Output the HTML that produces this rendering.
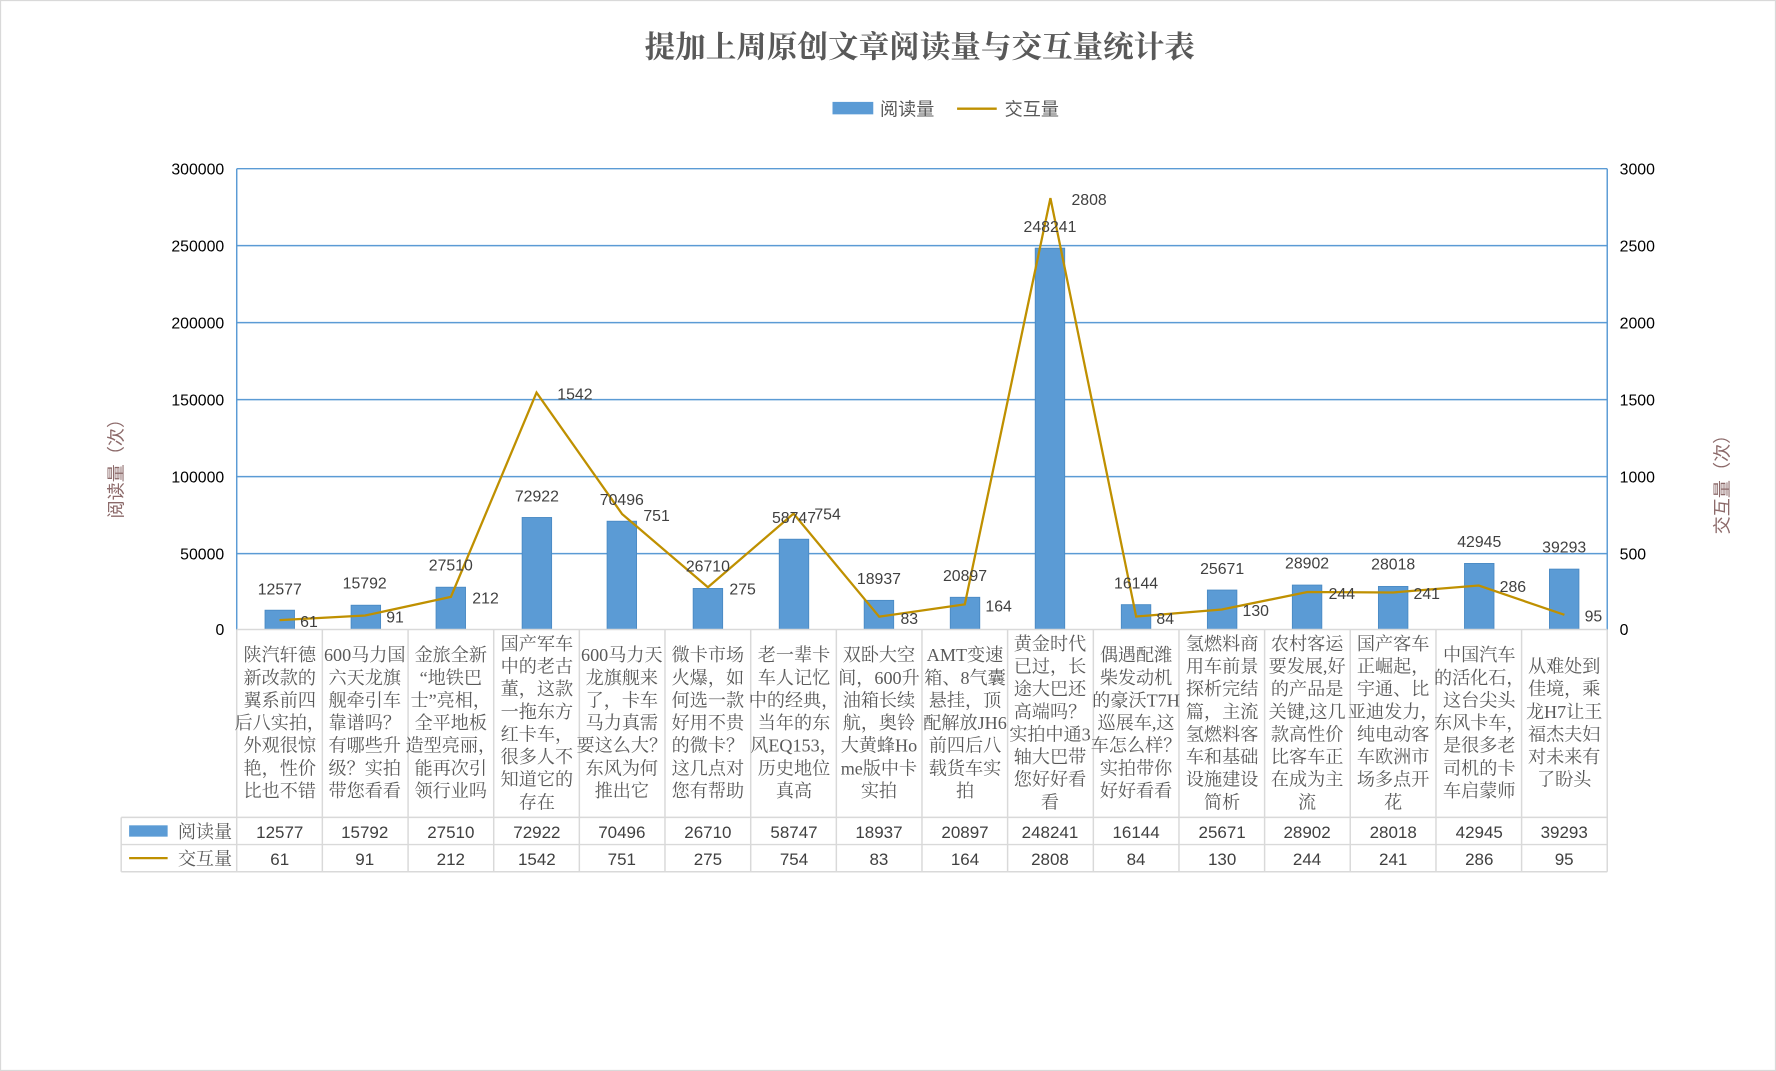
<!DOCTYPE html>
<html><head><meta charset="utf-8"><style>
html,body{margin:0;padding:0;background:#fff;}
svg{display:block;}
.ser{font-family:"Liberation Serif","Noto Serif CJK SC",serif;}
.san{font-family:"Liberation Sans","Noto Sans CJK SC",sans-serif;}
</style></head><body>
<svg width="1776" height="1071" viewBox="0 0 1568 946" preserveAspectRatio="none" xmlns="http://www.w3.org/2000/svg">
<rect x="0.5" y="0.5" width="1567" height="945" fill="#fff" stroke="#d9d9d9"/>
<text x="812" y="51" text-anchor="middle" class="ser" font-size="27" font-weight="bold" fill="#595959">提加上周原创文章阅读量与交互量统计表</text>
<rect x="735" y="90" width="36" height="11" fill="#5b9bd5"/>
<text x="777" y="102" class="san" font-size="16" fill="#595959">阅读量</text>
<line x1="845" y1="96" x2="880" y2="96" stroke="#bf9000" stroke-width="2"/>
<text x="887" y="102" class="san" font-size="16" fill="#595959">交互量</text>
<g stroke="#5b9bd5" stroke-width="1.3">
<line x1="209" y1="149" x2="1419" y2="149"/><line x1="209" y1="217" x2="1419" y2="217"/>
<line x1="209" y1="285" x2="1419" y2="285"/><line x1="209" y1="353" x2="1419" y2="353"/>
<line x1="209" y1="421" x2="1419" y2="421"/><line x1="209" y1="489" x2="1419" y2="489"/>
<line x1="209" y1="149" x2="209" y2="556"/><line x1="1419" y1="149" x2="1419" y2="556"/>
</g>
<g class="san" font-size="14" fill="#000" text-anchor="end">
<text x="198" y="154">300000</text><text x="198" y="222">250000</text><text x="198" y="290">200000</text>
<text x="198" y="358">150000</text><text x="198" y="426">100000</text><text x="198" y="494">50000</text><text x="198" y="561">0</text>
</g>
<g class="san" font-size="14" fill="#000">
<text x="1430" y="154">3000</text><text x="1430" y="222">2500</text><text x="1430" y="290">2000</text>
<text x="1430" y="358">1500</text><text x="1430" y="426">1000</text><text x="1430" y="494">500</text><text x="1430" y="561">0</text>
</g>
<text transform="translate(108,410) rotate(-90)" text-anchor="middle" class="san" font-size="16" fill="#8c6a6a">阅读量（次）</text>
<text transform="translate(1526,424) rotate(-90)" text-anchor="middle" class="san" font-size="16" fill="#8c6a6a">交互量（次）</text>
<g fill="#5b9bd5" stroke="#4a8ac4" stroke-width="0.8">
<rect x="234" y="539" width="26" height="17"/><rect x="310" y="534.6" width="26" height="21.4"/>
<rect x="385" y="518.7" width="26" height="37.3"/><rect x="461" y="457.1" width="26" height="98.9"/>
<rect x="536" y="460.4" width="26" height="95.6"/><rect x="612" y="519.8" width="26" height="36.2"/>
<rect x="688" y="476.3" width="26" height="79.7"/><rect x="763" y="530.3" width="26" height="25.7"/>
<rect x="839" y="527.6" width="26" height="28.4"/><rect x="914" y="219.2" width="26" height="336.8"/>
<rect x="990" y="534.1" width="26" height="21.9"/><rect x="1066" y="521.2" width="26" height="34.8"/>
<rect x="1141" y="516.8" width="26" height="39.2"/><rect x="1217" y="518" width="26" height="38"/>
<rect x="1293" y="497.7" width="26" height="58.3"/><rect x="1368" y="502.7" width="26" height="53.3"/>
</g>
<polyline fill="none" stroke="#bf9000" stroke-width="2" points="246.8,547.7 322.4,543.7 398.1,527.2 473.7,346.8 549.3,454.1 625,518.7 700.6,453.7 776.2,544.7 851.8,533.8 927.4,175 1003.1,544.6 1078.7,538.4 1154.3,522.9 1230,523.3 1305.6,517.2 1381.2,543.1"/>
<g class="san" font-size="14" fill="#404040" text-anchor="middle">
<text x="247" y="525">12577</text><text x="322" y="520">15792</text><text x="398" y="504">27510</text>
<text x="474" y="443">72922</text><text x="549" y="446">70496</text><text x="625" y="505">26710</text>
<text x="701" y="462">58747</text><text x="776" y="516">18937</text><text x="852" y="513">20897</text>
<text x="927" y="205">248241</text><text x="1003" y="520">16144</text><text x="1079" y="507">25671</text>
<text x="1154" y="502">28902</text><text x="1230" y="503">28018</text><text x="1306" y="483">42945</text><text x="1381" y="488">39293</text>
</g>
<g class="san" font-size="14" fill="#404040">
<text x="265" y="554">61</text><text x="341" y="550">91</text><text x="417" y="533">212</text>
<text x="492" y="353">1542</text><text x="568" y="460">751</text><text x="644" y="525">275</text>
<text x="719" y="459">754</text><text x="795" y="551">83</text><text x="870" y="540">164</text>
<text x="946" y="181">2808</text><text x="1021" y="551">84</text><text x="1097" y="544">130</text>
<text x="1173" y="529">244</text><text x="1248" y="529">241</text><text x="1324" y="523">286</text><text x="1399" y="549">95</text>
</g>
<g stroke="#d9d9d9" stroke-width="1.3">
<line x1="209" y1="556" x2="1419" y2="556"/>
<line x1="107" y1="722" x2="1419" y2="722"/><line x1="107" y1="746" x2="1419" y2="746"/><line x1="107" y1="770" x2="1419" y2="770"/>
<line x1="107" y1="722" x2="107" y2="770"/>
<line x1="209" y1="556" x2="209" y2="770"/><line x1="284.6" y1="556" x2="284.6" y2="770"/><line x1="360.3" y1="556" x2="360.3" y2="770"/>
<line x1="435.9" y1="556" x2="435.9" y2="770"/><line x1="511.5" y1="556" x2="511.5" y2="770"/><line x1="587.1" y1="556" x2="587.1" y2="770"/>
<line x1="662.8" y1="556" x2="662.8" y2="770"/><line x1="738.4" y1="556" x2="738.4" y2="770"/><line x1="814" y1="556" x2="814" y2="770"/>
<line x1="889.6" y1="556" x2="889.6" y2="770"/><line x1="965.3" y1="556" x2="965.3" y2="770"/><line x1="1040.9" y1="556" x2="1040.9" y2="770"/>
<line x1="1116.5" y1="556" x2="1116.5" y2="770"/><line x1="1192.1" y1="556" x2="1192.1" y2="770"/><line x1="1267.8" y1="556" x2="1267.8" y2="770"/>
<line x1="1343.4" y1="556" x2="1343.4" y2="770"/><line x1="1419" y1="556" x2="1419" y2="770"/>
</g>
<g class="ser" font-size="16" fill="#595959" text-anchor="middle">
<text y="584"><tspan x="247">陕汽轩德</tspan><tspan x="247" dy="20">新改款的</tspan><tspan x="247" dy="20">翼系前四</tspan><tspan x="247" dy="20">后八实拍，</tspan><tspan x="247" dy="20">外观很惊</tspan><tspan x="247" dy="20">艳，性价</tspan><tspan x="247" dy="20">比也不错</tspan></text>
<text y="584"><tspan x="322">600马力国</tspan><tspan x="322" dy="20">六天龙旗</tspan><tspan x="322" dy="20">舰牵引车</tspan><tspan x="322" dy="20">靠谱吗？</tspan><tspan x="322" dy="20">有哪些升</tspan><tspan x="322" dy="20">级？实拍</tspan><tspan x="322" dy="20">带您看看</tspan></text>
<text y="584"><tspan x="398">金旅全新</tspan><tspan x="398" dy="20">“地铁巴</tspan><tspan x="398" dy="20">士”亮相，</tspan><tspan x="398" dy="20">全平地板</tspan><tspan x="398" dy="20">造型亮丽，</tspan><tspan x="398" dy="20">能再次引</tspan><tspan x="398" dy="20">领行业吗</tspan></text>
<text y="574"><tspan x="474">国产军车</tspan><tspan x="474" dy="20">中的老古</tspan><tspan x="474" dy="20">董，这款</tspan><tspan x="474" dy="20">一拖东方</tspan><tspan x="474" dy="20">红卡车，</tspan><tspan x="474" dy="20">很多人不</tspan><tspan x="474" dy="20">知道它的</tspan><tspan x="474" dy="20">存在</tspan></text>
<text y="584"><tspan x="549">600马力天</tspan><tspan x="549" dy="20">龙旗舰来</tspan><tspan x="549" dy="20">了，卡车</tspan><tspan x="549" dy="20">马力真需</tspan><tspan x="549" dy="20">要这么大？</tspan><tspan x="549" dy="20">东风为何</tspan><tspan x="549" dy="20">推出它</tspan></text>
<text y="584"><tspan x="625">微卡市场</tspan><tspan x="625" dy="20">火爆，如</tspan><tspan x="625" dy="20">何选一款</tspan><tspan x="625" dy="20">好用不贵</tspan><tspan x="625" dy="20">的微卡？</tspan><tspan x="625" dy="20">这几点对</tspan><tspan x="625" dy="20">您有帮助</tspan></text>
<text y="584"><tspan x="701">老一辈卡</tspan><tspan x="701" dy="20">车人记忆</tspan><tspan x="701" dy="20">中的经典，</tspan><tspan x="701" dy="20">当年的东</tspan><tspan x="701" dy="20">风EQ153，</tspan><tspan x="701" dy="20">历史地位</tspan><tspan x="701" dy="20">真高</tspan></text>
<text y="584"><tspan x="776">双卧大空</tspan><tspan x="776" dy="20">间，600升</tspan><tspan x="776" dy="20">油箱长续</tspan><tspan x="776" dy="20">航，奥铃</tspan><tspan x="776" dy="20">大黄蜂Ho</tspan><tspan x="776" dy="20">me版中卡</tspan><tspan x="776" dy="20">实拍</tspan></text>
<text y="584"><tspan x="852">AMT变速</tspan><tspan x="852" dy="20">箱、8气囊</tspan><tspan x="852" dy="20">悬挂，顶</tspan><tspan x="852" dy="20">配解放JH6</tspan><tspan x="852" dy="20">前四后八</tspan><tspan x="852" dy="20">载货车实</tspan><tspan x="852" dy="20">拍</tspan></text>
<text y="574"><tspan x="927">黄金时代</tspan><tspan x="927" dy="20">已过，长</tspan><tspan x="927" dy="20">途大巴还</tspan><tspan x="927" dy="20">高端吗？</tspan><tspan x="927" dy="20">实拍中通3</tspan><tspan x="927" dy="20">轴大巴带</tspan><tspan x="927" dy="20">您好好看</tspan><tspan x="927" dy="20">看</tspan></text>
<text y="584"><tspan x="1003">偶遇配潍</tspan><tspan x="1003" dy="20">柴发动机</tspan><tspan x="1003" dy="20">的豪沃T7H</tspan><tspan x="1003" dy="20">巡展车,这</tspan><tspan x="1003" dy="20">车怎么样？</tspan><tspan x="1003" dy="20">实拍带你</tspan><tspan x="1003" dy="20">好好看看</tspan></text>
<text y="574"><tspan x="1079">氢燃料商</tspan><tspan x="1079" dy="20">用车前景</tspan><tspan x="1079" dy="20">探析完结</tspan><tspan x="1079" dy="20">篇，主流</tspan><tspan x="1079" dy="20">氢燃料客</tspan><tspan x="1079" dy="20">车和基础</tspan><tspan x="1079" dy="20">设施建设</tspan><tspan x="1079" dy="20">简析</tspan></text>
<text y="574"><tspan x="1154">农村客运</tspan><tspan x="1154" dy="20">要发展,好</tspan><tspan x="1154" dy="20">的产品是</tspan><tspan x="1154" dy="20">关键,这几</tspan><tspan x="1154" dy="20">款高性价</tspan><tspan x="1154" dy="20">比客车正</tspan><tspan x="1154" dy="20">在成为主</tspan><tspan x="1154" dy="20">流</tspan></text>
<text y="574"><tspan x="1230">国产客车</tspan><tspan x="1230" dy="20">正崛起，</tspan><tspan x="1230" dy="20">宇通、比</tspan><tspan x="1230" dy="20">亚迪发力，</tspan><tspan x="1230" dy="20">纯电动客</tspan><tspan x="1230" dy="20">车欧洲市</tspan><tspan x="1230" dy="20">场多点开</tspan><tspan x="1230" dy="20">花</tspan></text>
<text y="584"><tspan x="1306">中国汽车</tspan><tspan x="1306" dy="20">的活化石，</tspan><tspan x="1306" dy="20">这台尖头</tspan><tspan x="1306" dy="20">东风卡车，</tspan><tspan x="1306" dy="20">是很多老</tspan><tspan x="1306" dy="20">司机的卡</tspan><tspan x="1306" dy="20">车启蒙师</tspan></text>
<text y="594"><tspan x="1381">从难处到</tspan><tspan x="1381" dy="20">佳境，乘</tspan><tspan x="1381" dy="20">龙H7让王</tspan><tspan x="1381" dy="20">福杰夫妇</tspan><tspan x="1381" dy="20">对未来有</tspan><tspan x="1381" dy="20">了盼头</tspan></text>
</g>
<rect x="114" y="729" width="34" height="10" fill="#5b9bd5"/>
<line x1="114" y1="758" x2="148" y2="758" stroke="#bf9000" stroke-width="2"/>
<g class="ser" font-size="16" fill="#595959">
<text x="157" y="740">阅读量</text><text x="157" y="764">交互量</text>
</g>
<g class="san" font-size="15" fill="#404040" text-anchor="middle">
<text x="247" y="740">12577</text><text x="322" y="740">15792</text><text x="398" y="740">27510</text><text x="474" y="740">72922</text>
<text x="549" y="740">70496</text><text x="625" y="740">26710</text><text x="701" y="740">58747</text><text x="776" y="740">18937</text>
<text x="852" y="740">20897</text><text x="927" y="740">248241</text><text x="1003" y="740">16144</text><text x="1079" y="740">25671</text>
<text x="1154" y="740">28902</text><text x="1230" y="740">28018</text><text x="1306" y="740">42945</text><text x="1381" y="740">39293</text>
<text x="247" y="764">61</text><text x="322" y="764">91</text><text x="398" y="764">212</text><text x="474" y="764">1542</text>
<text x="549" y="764">751</text><text x="625" y="764">275</text><text x="701" y="764">754</text><text x="776" y="764">83</text>
<text x="852" y="764">164</text><text x="927" y="764">2808</text><text x="1003" y="764">84</text><text x="1079" y="764">130</text>
<text x="1154" y="764">244</text><text x="1230" y="764">241</text><text x="1306" y="764">286</text><text x="1381" y="764">95</text>
</g>
</svg>
</body></html>
